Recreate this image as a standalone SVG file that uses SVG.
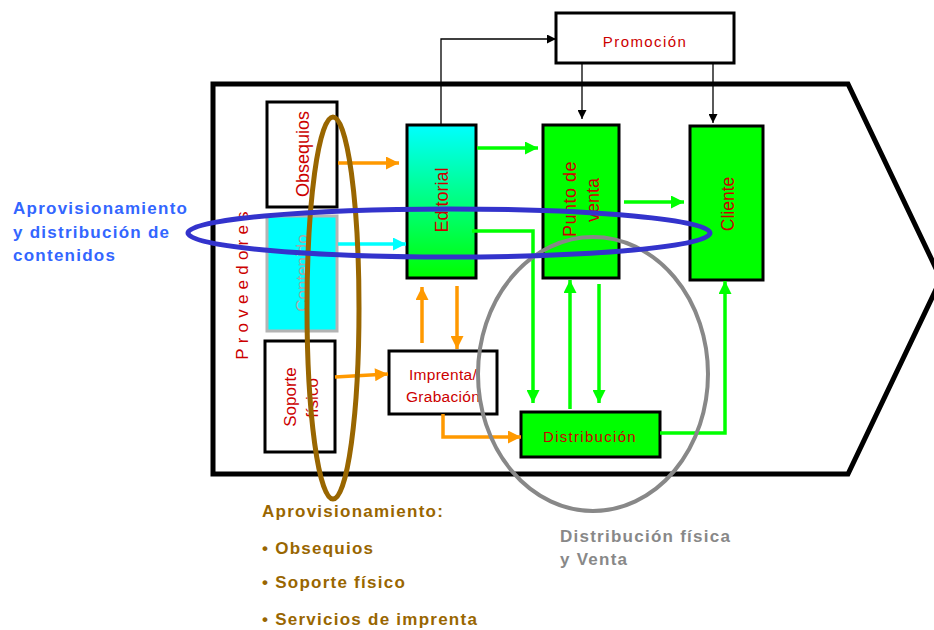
<svg xmlns="http://www.w3.org/2000/svg" width="934" height="630" viewBox="0 0 934 630">
<defs>
<linearGradient id="edGrad" x1="0" y1="0" x2="0" y2="1">
<stop offset="0" stop-color="#00ffff"/>
<stop offset="1" stop-color="#00ff00"/>
</linearGradient>
<marker id="mO" viewBox="0 0 10 10" refX="10" refY="5" markerWidth="15" markerHeight="13" markerUnits="userSpaceOnUse" orient="auto"><path d="M0,0 L10,5 L0,10 z" fill="#ff9900"/></marker>
<marker id="mG" viewBox="0 0 10 10" refX="10" refY="5" markerWidth="15" markerHeight="13" markerUnits="userSpaceOnUse" orient="auto"><path d="M0,0 L10,5 L0,10 z" fill="#00ff00"/></marker>
<marker id="mC" viewBox="0 0 10 10" refX="10" refY="5" markerWidth="15" markerHeight="13" markerUnits="userSpaceOnUse" orient="auto"><path d="M0,0 L10,5 L0,10 z" fill="#00ffff"/></marker>
<marker id="mK" viewBox="0 0 10 10" refX="10" refY="5" markerWidth="10" markerHeight="9" markerUnits="userSpaceOnUse" orient="auto"><path d="M0,0 L10,5 L0,10 z" fill="#000"/></marker>
</defs>
<style>
.box{stroke:#000;stroke-width:3}
.lbl{font-family:"Liberation Sans",Arial,sans-serif;fill:#cc0000;text-anchor:middle}
.or{fill:none;stroke:#ff9900;stroke-width:3.5;marker-end:url(#mO)}
.gr{fill:none;stroke:#00ff00;stroke-width:3.5;marker-end:url(#mG)}
.cy{fill:none;stroke:#00ffff;stroke-width:3.5;marker-end:url(#mC)}
.bk{fill:none;stroke:#000;stroke-width:1.3;marker-end:url(#mK)}
.note{font-family:"Liberation Sans",Arial,sans-serif;font-weight:bold;font-size:17px;letter-spacing:1.25px}
</style>
<rect width="934" height="630" fill="#fff"/>
<path id="frame" d="M213,84 L848,84 L941,279 L848,474 L213,474 Z" fill="#fff" stroke="#000" stroke-width="5"/>

<g id="promocion"><rect class="box" x="556" y="13" width="178" height="50" fill="#fff"/><text class="lbl" x="645" y="47" font-size="15" letter-spacing="1.4">Promoción</text></g>
<g id="obsequios"><rect class="box" x="267" y="102" width="70" height="105" fill="#fff"/><text class="lbl" font-size="18" transform="translate(303,154) rotate(-90)" dy="0.35em">Obsequios</text></g>
<g id="contenido"><rect x="267" y="216" width="70" height="115" fill="#00ffff" stroke="#b4b4b4" stroke-width="3"/><text class="lbl" font-size="17" style="fill:#a8a8a8" transform="translate(302,273) rotate(-90)" dy="0.35em">Contenido</text></g>
<g id="soporte"><rect class="box" x="265" y="341" width="70" height="111" fill="#fff"/><text class="lbl" font-size="17" transform="translate(290,397) rotate(-90)" dy="0.35em">Soporte</text><text class="lbl" font-size="17" transform="translate(312,398) rotate(-90)" dy="0.35em">físico</text></g>
<g id="proveedores"><text class="lbl" font-size="17" letter-spacing="5.2" transform="translate(248,283) rotate(-90)">Proveedores</text></g>
<g id="editorial"><rect class="box" x="407" y="125" width="69" height="153" fill="url(#edGrad)"/><text class="lbl" font-size="18" transform="translate(442,200) rotate(-90)" dy="0.35em">Editorial</text></g>
<g id="puntoventa"><rect class="box" x="543" y="125" width="76" height="153" fill="#00ff00"/><text class="lbl" font-size="18" transform="translate(570,199) rotate(-90)" dy="0.35em" letter-spacing="0.5">Punto  de</text><text class="lbl" font-size="18" transform="translate(593,200) rotate(-90)" dy="0.35em">venta</text></g>
<g id="cliente"><rect class="box" x="690" y="126" width="73" height="154" fill="#00ff00"/><text class="lbl" font-size="17.5" transform="translate(728,204) rotate(-90)" dy="0.35em">Cliente</text></g>
<g id="imprenta"><rect class="box" x="389" y="351" width="108" height="63" fill="#fff"/><text class="lbl" x="443" y="380" font-size="15.5" letter-spacing="0.3">Imprenta/</text><text class="lbl" x="443" y="402" font-size="15.5" letter-spacing="0.3">Grabación</text></g>
<g id="distribucion"><rect class="box" x="521" y="412" width="139" height="45" fill="#00ff00"/><text class="lbl" x="590" y="442" font-size="15" letter-spacing="1.3">Distribución</text></g>

<g id="connectors">
<path class="or" d="M338,163 L399,163"/>
<path class="or" d="M335,377 L388,374"/>
<path class="or" d="M422,343 L422,287"/>
<path class="or" d="M457,286 L457,349"/>
<path class="or" d="M443,414 L443,437 L521,437"/>
<path class="cy" d="M338,244 L406,244"/>
<path class="gr" d="M477,148 L538,148"/>
<path class="gr" d="M472,231 L533,231 L533,403"/>
<path class="gr" d="M570,409 L570,280"/>
<path class="gr" d="M599,284 L599,403"/>
<path class="gr" d="M624,202 L684,202"/>
<path class="gr" d="M660,433 L725,433 L725,281"/>
<path class="bk" d="M441,125 L441,39 L556,39"/>
<path class="bk" d="M582,63 L582,119"/>
<path class="bk" d="M713,63 L713,123"/>
</g>

<g id="groupings">
<ellipse cx="593" cy="374" rx="115" ry="137" fill="none" stroke="#888888" stroke-width="4"/>
<ellipse cx="333" cy="308" rx="26" ry="191" fill="none" stroke="#996600" stroke-width="5"/>
<ellipse cx="449" cy="233" rx="261" ry="24" fill="none" stroke="#3333cc" stroke-width="5"/>
</g>

<g id="notes">
<text class="note" fill="#3366ff" x="13" y="214">Aprovisionamiento</text>
<text class="note" fill="#3366ff" x="13" y="238">y distribución de</text>
<text class="note" fill="#3366ff" x="13" y="261">contenidos</text>
<text class="note" fill="#996600" x="262" y="517">Aprovisionamiento:</text>
<text class="note" fill="#996600" x="262" y="554">• Obsequios</text>
<text class="note" fill="#996600" x="262" y="588">• Soporte físico</text>
<text class="note" fill="#996600" x="262" y="625">• Servicios de imprenta</text>
<text class="note" fill="#888888" x="560" y="542">Distribución física</text>
<text class="note" fill="#888888" x="560" y="565">y Venta</text>
</g>
</svg>
